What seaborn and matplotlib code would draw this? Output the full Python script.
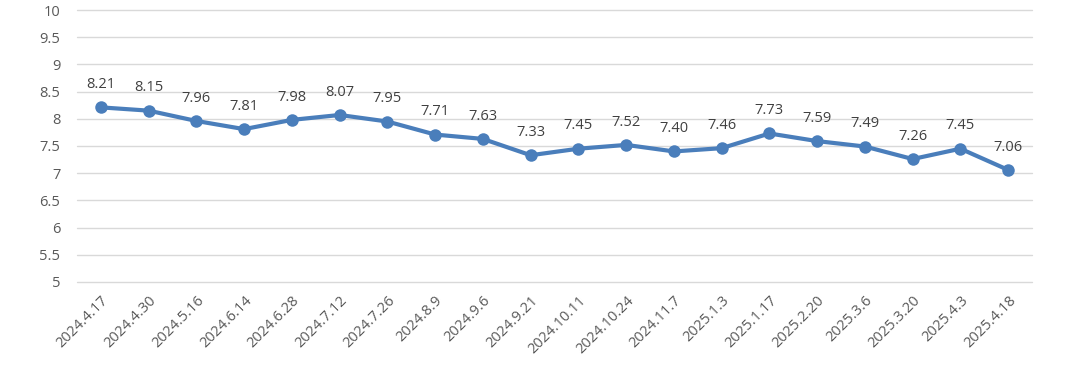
import pandas as pd
import matplotlib.pyplot as plt
import seaborn as sns

# データ
dates = ["2024.4.17", "2024.4.30", "2024.5.16", "2024.6.14", "2024.6.28",
         "2024.7.12", "2024.7.26", "2024.8.9", "2024.9.6", "2024.9.21",
         "2024.10.11", "2024.10.24", "2024.11.7", "2025.1.3", "2025.1.17",
         "2025.2.20", "2025.3.6", "2025.3.20", "2025.4.3", "2025.4.18"]
values = [8.21, 8.15, 7.96, 7.81, 7.98, 8.07, 7.95, 7.71, 7.63, 7.33,
          7.45, 7.52, 7.40, 7.46, 7.73, 7.59, 7.49, 7.26, 7.45, 7.06]
y_ticks = [5, 5.5, 6, 6.5, 7, 7.5, 8, 8.5, 9, 9.5, 10]

df = pd.DataFrame({"date": dates, "value": values})
df["pos"] = range(len(df))

sns.set_style("white")
plt.rcParams['font.family'] = ['Open Sans', 'DejaVu Sans']

fig = plt.figure(figsize=(10.8, 3.71), dpi=100)
ax = fig.add_axes([0.0713, 0.240, 0.8843, 0.733])

sns.lineplot(data=df, x="pos", y="value", ax=ax, color="#4A7EBB",
             linewidth=3, marker="o", markersize=9, markeredgewidth=0,
             sort=False, zorder=3)

# データラベル
for i, v in enumerate(values):
    ax.annotate(f"{v:.2f}", (i, v), xytext=(0, 11), textcoords="offset points",
                ha="center", va="bottom", fontsize=10.5, color="#404040")

ax.set_xlim(-0.5, len(dates) - 0.5)
ax.set_ylim(5, 10)
ax.set_yticks(y_ticks)
ax.set_yticklabels([f"{t:g}" for t in y_ticks])
ax.set_xticks(range(len(dates)))
ax.set_xticklabels(dates, rotation=45, ha="right", rotation_mode="anchor")
ax.tick_params(axis="both", labelsize=10.5, colors="#595959", length=0)
ax.tick_params(axis="y", pad=12)
ax.tick_params(axis="x", pad=8)
ax.grid(axis="y", color="#d9d9d9", linewidth=1)
for gl in ax.get_ygridlines():
    gl.set_clip_on(False)
ax.set_xlabel("")
ax.set_ylabel("")
for s in ax.spines.values():
    s.set_visible(False)

fig.savefig("out.png", dpi=100)
